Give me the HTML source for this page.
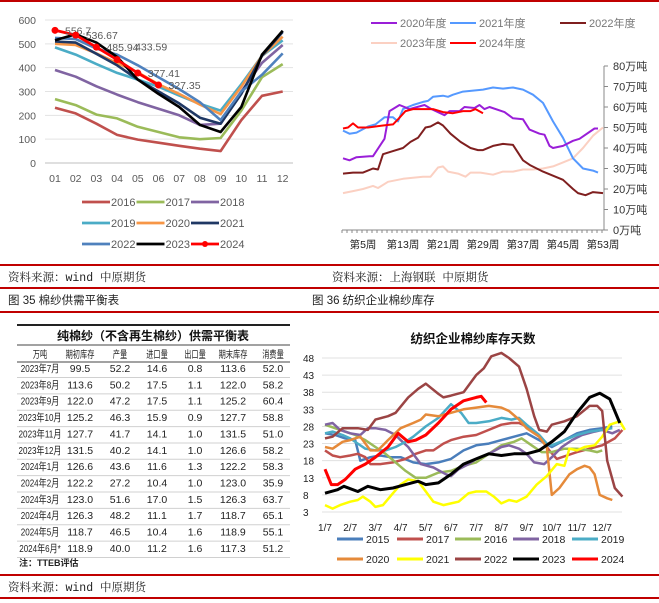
<!DOCTYPE html>
<html><head><meta charset="utf-8"><style>
html,body{margin:0;padding:0;background:#fff;}
svg{display:block;font-family:"Liberation Sans","Noto Sans CJK SC",sans-serif;}
</style></head><body>
<svg id="s" width="659" height="603" viewBox="0 0 659 603" xmlns="http://www.w3.org/2000/svg">
<rect x="0" y="0" width="659" height="603" fill="#fff"/>
<rect x="0" y="0" width="659" height="2" fill="#c00000"/>
<rect x="0" y="264" width="659" height="2" fill="#c00000"/>
<rect x="0" y="287" width="659" height="2" fill="#c00000"/>
<rect x="0" y="311" width="659" height="2" fill="#c00000"/>
<rect x="0" y="574" width="659" height="2" fill="#c00000"/>
<rect x="0" y="597" width="659" height="2" fill="#c00000"/>
<g font-family="'Liberation Mono','Noto Serif CJK SC',serif" font-size="11.5" fill="#222">
<text x="8" y="281">资料来源：wind 中原期货</text>
<text x="332" y="281">资料来源：上海钢联 中原期货</text>
<text x="8" y="304" font-family="'Liberation Sans','Noto Sans CJK SC',sans-serif">图 35 棉纱供需平衡表</text>
<text x="312" y="304" font-family="'Liberation Sans','Noto Sans CJK SC',sans-serif">图 36 纺织企业棉纱库存</text>
<text x="8" y="591">资料来源：wind 中原期货</text>
</g>
<g id="c1"></g>
<g id="c2"></g>
<g id="tb"></g>
<g id="c4"></g>
</svg>
<script>
// ---------- Chart 1 data ----------
const c1Months = ["01","02","03","04","05","06","07","08","09","10","11","12"];
const c1Ticks = [0,100,200,300,400,500,600];
const c1Years = ["2016","2017","2018","2019","2020","2021","2022","2023","2024"];
const c1v2016 = [232,208,165,118,98,85,72,60,50,180,282,300];
const c1v2017 = [268,243,203,187,152,130,108,100,105,220,360,415];
const c1v2018 = [390,362,322,287,255,228,200,160,165,300,420,495];
const c1v2019 = [485,455,415,378,350,320,283,248,220,330,450,515];
const c1v2020 = [500,495,460,420,380,330,290,245,205,320,450,530];
const c1v2021 = [510,505,458,410,350,300,250,190,165,290,450,550];
const c1v2022 = [525,520,480,455,410,360,310,255,180,300,370,460];
const c1v2023 = [515,540,505,445,350,290,235,160,130,235,455,555];
const c1v2024 = [556.7,536.67,485.94,433.59,377.41,327.35];
const c1Labels = ["556.7","536.67","485.94","433.59","377.41","327.35"];

// ---------- Chart 2 data ----------
const c2Ticks = [0,10,20,30,40,50,60,70,80];
const c2WeekLabels = [5,13,21,29,37,45,53];
const c2w2020 = [1,2.3,3.7,6.3,7,9.3,10.3,12.3,14.3,17.3,18.7,21.3,22.3,24.3,25.3,27.3,28.3,29.3,30.3,33.3,35,37,38.3,40.3,41.3,42.3,43,45,47,48.3,51.3,52];
const c2v2020 = [35,34,35.5,36,36,44.5,58,61,59,61,59,56,58,58,60,59.5,61,59,60,57.5,54.5,54,49,47,46.5,41,40,41,43.5,44.5,49.5,49.5];
const c2w2021 = [1,2.3,3.7,6,7.5,9.3,11,12,13,15,17,18,19,21,22,23,25,27,29,31,33,35,37,39,41,43,45,47,49,51,52];
const c2v2021 = [48.5,47,47.5,50.5,51.5,55,55,53,59,61,62.5,63,65,65.5,65,66,67.5,68,68.5,69.5,69,69.5,68.5,66,62,53,45,35,30,29,28];
const c2w2022 = [1,3,5,7,8,9,11,13,14.5,16,17.5,18.5,20,21,22.5,24.5,26.5,28,29,31,33,35,37,38.5,41,43,45,47,48,49.5,51,53];
const c2v2022 = [27.5,28,28,30,29.5,37,38.5,40,43,45,50,50.5,52.5,51,47,43,40,39,39,41,42,41.5,34,31.5,28.5,26.5,24.5,20,18,17,18.5,18];
const c2w2023 = [1,3,5,7,8,10,13,15,17,18.5,20,21,22,24,25.5,26.5,28.5,31,33,35,37,39,41,43,45,47,49,51,53];
const c2v2023 = [18,19,20,21.5,20.5,23.5,25,25.5,26,26,30.5,31,28.5,27.5,26,28,28,27,28.5,28.5,29.5,29.5,30,31,33,35,40,46,50];
const c2w2024 = [1,2,3,4,6,9,11,12,13.5,15,17,19,21,23,25,26.5,27.5,29];
const c2v2024 = [49.5,50,52,50,50,51,51.5,54,58,59,59,59,57.5,57,58,58,59,57];

// ---------- Table data ----------
const tbHeader = ["万吨","期初库存","产量","进口量","出口量","期末库存","消费量"];
const tbMonths = ["2023年7月","2023年8月","2023年9月","2023年10月","2023年11月","2023年12月","2024年1月","2024年2月","2024年3月","2024年4月","2024年5月","2024年6月*"];
const tbOpen = ["99.5","113.6","122.0","125.2","127.7","131.5","126.6","122.2","123.0","126.3","118.7","118.9"];
const tbProd = ["52.2","50.2","47.2","46.3","41.7","40.2","43.6","27.2","51.6","48.2","46.5","40.0"];
const tbImp = ["14.6","17.5","17.5","15.9","14.1","14.1","11.6","10.4","17.0","11.1","10.4","11.2"];
const tbExp = ["0.8","1.1","1.1","0.9","1.0","1.0","1.3","1.0","1.5","1.7","1.6","1.6"];
const tbEnd = ["113.6","122.0","125.2","127.7","131.5","126.6","122.2","123.0","126.3","118.7","118.9","117.3"];
const tbCons = ["52.0","58.2","60.4","58.8","51.0","58.2","58.3","35.9","63.7","65.1","55.1","51.2"];

// ---------- Chart 4 data ----------
const c4Ticks = [3,8,13,18,23,28,33,38,43,48];
const c4XLabels = ["1/7","2/7","3/7","4/7","5/7","6/7","7/7","8/7","9/7","10/7","11/7","12/7"];
const c4m2015 = [0,0.4,0.8,1.2,1.4,1.8,2.2,2.6,3,3.5,4,4.5,5,5.5,6,6.5,7,7.5,8,8.5,9,9.5,10,10.5,11,11.4];
const c4v2015 = [26,25.5,24.5,24,18,19,19.5,19,19,17.5,17,17.5,18.5,21,22.5,23,24,25,26,24,22,24,26,27,27.5,28];
const c4m2017 = [0,0.3,0.6,1,1.3,1.6,1.8,2.2,2.7,3.2,3.6,4,4.3,4.7,5,5.5,6,6.5,7,7.4,7.7,8,8.5,8.9,9.2,9.6,10,10.5,11,11.5,11.8];
const c4v2017 = [21,19.5,19,19.5,20,19,17,17,17.5,18.5,20,21,21,23,24,25,25.5,27,28.5,29,29,28,25,21,18.5,19.5,20.5,21.5,22.5,24.5,27];
const c4m2016 = [0,0.4,0.8,1.2,1.6,2,2.4,2.8,3.2,3.6,4,4.5,5,5.5,6,6.5,7,7.5,7.8,8.2,8.6,9,9.5,10,10.5,10.8,11];
const c4v2016 = [28.5,27.5,26.5,25.5,24,22,20,17.5,15,13,13,14.5,15,16.5,17.5,20,22.5,23.5,24.5,22.5,20.5,20.5,21.5,21.5,21,20.5,21];
const c4m2018 = [0,0.3,0.6,1,1.4,1.7,2,2.4,2.8,3,3.3,3.6,3.8,4.3,4.8,5,5.3,5.7,6,6.5,7,7.3,7.7,8,8.3,8.7,9,9.4,9.8,10.2,10.7,11,11.4,11.7];
const c4v2018 = [28.5,29,27,26,25.5,27.5,27.5,27,25.5,24,22,19,17,16,14,13.5,15.5,17,18.5,20,22,22.5,21.5,20,17.5,17,19,22,24,25.5,26.5,27,26,27];
const c4m2019 = [0,0.3,0.7,1,1.3,1.6,2,2.4,2.8,3.2,3.5,4,4.5,5,5.4,5.7,6,6.5,7,7.4,7.7,8,8.5,8.8,9,9.5,10,10.5,11,11.4];
const c4v2019 = [26,26.5,25.5,24.5,23,21.5,21,21,22,23.5,25,28,30.5,34.5,32,29,29,29.5,30.5,30,30.5,28.5,25.5,23,22.5,24,25.5,26.5,27,27.5];
const c4m2020 = [0,0.3,0.7,1,1.4,1.8,2.1,2.5,3,3.5,3.8,4,4.5,5,5.5,6,6.5,7,7.3,7.7,8,8.5,8.8,9,9.3,9.7,10,10.3,10.5,10.7,10.9,11.2,11.4];
const c4v2020 = [22,21.5,23.5,24,25,21,21,24,27.5,29,30,31.5,31,32,33,33.5,34,33.5,32.5,30,27.5,25,22,8,10,14,15.5,16.5,16,14,8,7,6.5];
const c4m2021 = [0,0.3,0.6,1,1.3,1.5,1.8,2,2.3,2.7,3,3.3,3.7,4,4.3,4.7,5,5.3,5.7,6,6.4,6.7,7,7.3,7.6,8,8.4,8.8,9.2,9.5,9.7,10,10.3,10.7,11,11.3,11.7,11.9];
const c4v2021 = [5,4,5,6,6.5,7.5,6,4.5,5,8.5,11,12.5,12,9,6,5,5.5,6,8.5,9,9,7.5,5.5,6.5,6,7.5,11,13.5,17,16.5,21.5,21,22,22.5,25,28.5,29.5,27];
const c4m2022 = [0,0.3,0.7,1.3,1.7,2,2.5,2.8,3.3,3.7,4,4.5,4.7,5,5.5,6,6.3,6.6,7,7.3,7.7,8,8.3,8.5,8.8,9,9.5,10,10.5,10.8,11,11.2,11.5,11.8];
const c4v2022 = [24.5,25,27.5,27.5,27,30,31,32,36.5,39,40.5,37.5,36.5,37,38,43,45,48.5,49.5,48,45.5,39,31,27,26.5,28.5,29.5,31,34,34,32.5,18,10,7.5];
const c4m2023 = [0,0.5,0.75,1.3,1.7,2.2,2.7,3.2,3.7,4,4.5,5,5.5,6,6.5,7,7.5,8,8.5,9,9.5,10,10.5,10.9,11.3,11.7];
const c4v2023 = [8.5,9.5,10.5,9,10.5,9.5,10,11,12,11,11.5,14,17,18.5,20,19.5,20,20,21,23.5,26.5,32,36.5,37.7,36,29];
const c4m2024 = [0,0.25,0.5,0.8,1.2,1.6,2,2.5,2.9,3.3,3.6,4,4.5,5,5.5,6,6.2,6.4];
const c4v2024 = [15.5,11,11,12.5,15.5,17,19,22,26,23.5,24,25.5,29,33,35.5,36.5,36.8,35];
</script>
<script>
const NS="http://www.w3.org/2000/svg";
function mk(parent,tag,attrs,text){const e=document.createElementNS(NS,tag);for(const k in attrs)e.setAttribute(k,attrs[k]);if(text!==undefined)e.textContent=text;parent.appendChild(e);return e;}
function pathD(xs,ys){return xs.map((x,i)=>(i?"L":"M")+x.toFixed(1)+","+ys[i].toFixed(1)).join(" ");}

// ===== Chart 1 =====
(function(){
const g=document.getElementById('c1');
const X=i=>55+i*20.7, Y=v=>163-v*143/600;
c1Ticks.forEach(t=>{
  const l=mk(g,'line',{x1:45,x2:293,y1:Y(t),y2:Y(t),stroke:t===0?'#bfbfbf':'#e3e3e3','stroke-width':1});
  
  
  const tx=mk(g,'text',{x:36,y:Y(t)+4,'text-anchor':'end','font-size':10.5,fill:'#595959'},String(t));
  
  
});
c1Months.forEach((m,i)=>{
  const tx=mk(g,'text',{x:X(i),y:182,'text-anchor':'middle','font-size':10.5,fill:'#595959'},m);
  
  
});
const series=[c1v2016,c1v2017,c1v2018,c1v2019,c1v2020,c1v2021,c1v2022,c1v2023,c1v2024];
const cols=['#c0504d','#9bbb59','#8064a2','#4bacc6','#f79646','#1f3864','#4f81bd','#000000','#ff0000'];
series.forEach((s,k)=>{
  const p=mk(g,'path',{d:pathD(s.map((v,i)=>X(i)),s.map(v=>Y(v))),fill:'none',stroke:cols[k],'stroke-width':k===8?2.8:2.6,'stroke-linejoin':'round'});
  
  
});
c1v2024.forEach((v,i)=>{
  const c=mk(g,'circle',{cx:X(i),cy:Y(v),r:3.5,fill:'#ff0000'});
  
  
  const t=mk(g,'text',{x:X(i)+(i===3?18:10),y:Y(v)+(i===3?-9:4),'font-size':10.5,fill:'#595959'},c1Labels[i]);
  
  
});
c1Years.forEach((y,k)=>{
  const col=k%3,row=Math.floor(k/3);
  const lx=82+col*54.5,ly=202+row*21;
  const e=mk(g,'g',{});
  
  
  mk(e,'line',{x1:lx,x2:lx+28,y1:ly,y2:ly,stroke:cols[k],'stroke-width':2.8});
  if(k===8) mk(e,'circle',{cx:lx+14,cy:ly,r:3,fill:'#ff0000'});
  mk(e,'text',{x:lx+29,y:ly+4,'font-size':11,fill:'#595959'},y);
});
})();

// ===== Chart 2 =====
(function(){
const g=document.getElementById('c2');
const X=w=>343+(w-1)*5, Y=v=>230-v*2.05;
const ax=mk(g,'line',{x1:604,x2:604,y1:Y(80),y2:230,stroke:'#888','stroke-width':1});


c2Ticks.forEach(t=>{
  mk(g,'line',{x1:604,x2:608,y1:Y(t),y2:Y(t),stroke:'#888'});
  const tx=mk(g,'text',{x:613,y:Y(t)+4,'font-size':11,fill:'#333'},t+'万吨');
  
  
});
const bx=mk(g,'line',{x1:342,x2:604,y1:230,y2:230,stroke:'#888','stroke-width':1});


for(let w=1;w<=53;w++) mk(g,'line',{x1:X(w)-1,x2:X(w)-1,y1:230,y2:233,stroke:'#888'});
c2WeekLabels.forEach(w=>{
  const tx=mk(g,'text',{x:X(w),y:248,'text-anchor':'middle','font-size':10.5,fill:'#222'},'第'+w+'周');
  
  
});
const S=[[c2w2023,c2v2023,'#fbd0c2','2023年度'],[c2w2022,c2v2022,'#7f1f1f','2022年度'],[c2w2021,c2v2021,'#5599ff','2021年度'],[c2w2020,c2v2020,'#9a1ed8','2020年度'],[c2w2024,c2v2024,'#ff0000','2024年度']];
S.forEach(s=>{
  const p=mk(g,'path',{d:pathD(s[0].map(X),s[1].map(Y)),fill:'none',stroke:s[2],'stroke-width':2,'stroke-linejoin':'round'});
  
  
});
const L=[[371,23,'#9a1ed8','2020年度'],[450,23,'#5599ff','2021年度'],[560,23,'#7f1f1f','2022年度'],[371,43,'#fbd0c2','2023年度'],[450,43,'#ff0000','2024年度']];
L.forEach(l=>{
  const e=mk(g,'g',{});
  
  
  mk(e,'line',{x1:l[0],x2:l[0]+26,y1:l[1],y2:l[1],stroke:l[2],'stroke-width':2});
  mk(e,'text',{x:l[0]+29,y:l[1]+4,'font-size':11,fill:'#777'},l[3]);
});
})();

// ===== Table =====
(function(){
const g=document.getElementById('tb');
const cx=[40,80,120,157,195,233,273];
mk(g,'rect',{x:17,y:324,width:273,height:2,fill:'#222'});
mk(g,'line',{x1:17,x2:290,y1:345,y2:345,stroke:'#444','stroke-width':1});
mk(g,'line',{x1:17,x2:290,y1:362,y2:362,stroke:'#444','stroke-width':1});
const t=mk(g,'text',{x:153,y:340,'text-anchor':'middle','font-size':12,'font-weight':'bold',fill:'#111'},'纯棉纱（不含再生棉纱）供需平衡表');


tbHeader.forEach((h,i)=>{
  const e=mk(g,'text',{x:cx[i],y:358,'text-anchor':'middle','font-size':10,fill:'#222'},h);
  e.setAttribute('textLength', (h.length*7.2).toFixed(1));
  e.setAttribute('lengthAdjust','spacingAndGlyphs');
  
  
});
const cols=[tbMonths,tbOpen,tbProd,tbImp,tbExp,tbEnd,tbCons];
tbMonths.forEach((m,r)=>{
  const y=372+r*16.36;
  mk(g,'line',{x1:17,x2:290,y1:y+5.5,y2:y+5.5,stroke:'#d0d0d0','stroke-width':1});
  cols.forEach((c,i)=>{
    const e=mk(g,'text',{x:cx[i],y:y,'text-anchor':'middle','font-size':10.5,fill:'#222'},c[r]);
    if(i===0){
      const s=c[r];let d=0,k=0,o=0;for(const ch of s){if(/[0-9]/.test(ch))d++;else if(/[\u4e00-\u9fff]/.test(ch))k++;else o++;}
      e.setAttribute('textLength',(d*4.5+k*8+o*3).toFixed(1));
      e.setAttribute('lengthAdjust','spacingAndGlyphs');
    }
    
    
  });
});
const n=mk(g,'text',{x:19,y:566,'font-size':9,'font-weight':'bold',fill:'#222'},'注：TTEB评估');


})();

// ===== Chart 4 =====
(function(){
const g=document.getElementById('c4');
const X=m=>325+m*25.2, Y=v=>358+(48-v)*3.422;
const t=mk(g,'text',{x:473,y:343,'text-anchor':'middle','font-size':12.5,'font-weight':'bold',fill:'#111'},'纺织企业棉纱库存天数');


c4Ticks.forEach(v=>{
  const l=mk(g,'line',{x1:322,x2:622,y1:Y(v),y2:Y(v),stroke:'#e0e0e0'});
  
  
  const tx=mk(g,'text',{x:303,y:Y(v)+4,'font-size':10,fill:'#222'},String(v));
  
  
});
c4XLabels.forEach((s,i)=>{
  const tx=mk(g,'text',{x:X(i),y:531,'text-anchor':'middle','font-size':10,fill:'#222'},s);
  
  
});
const S={'2015':[c4m2015,c4v2015,'#4a7ebb'],'2017':[c4m2017,c4v2017,'#c0504d'],'2016':[c4m2016,c4v2016,'#9bbb59'],'2018':[c4m2018,c4v2018,'#8064a2'],'2019':[c4m2019,c4v2019,'#4bacc6'],'2020':[c4m2020,c4v2020,'#e58a3a'],'2021':[c4m2021,c4v2021,'#ffff00'],'2022':[c4m2022,c4v2022,'#9b4444'],'2023':[c4m2023,c4v2023,'#000000'],'2024':[c4m2024,c4v2024,'#ff0000']};
['2015','2017','2016','2018','2019','2020','2021','2022','2023','2024'].forEach(k=>{
  const s=S[k];
  const p=mk(g,'path',{d:pathD(s[0].map(X),s[1].map(Y)),fill:'none',stroke:s[2],'stroke-width':k==='2023'||k==='2024'?3:2.5,'stroke-linejoin':'round'});
  
  
});
const order=['2015','2017','2016','2018','2019','2020','2021','2022','2023','2024'];
const lxs=[337,397,455,513,572];
order.forEach((k,i)=>{
  const lx=lxs[i%5],ly=i<5?539:559;
  const e=mk(g,'g',{});
  
  
  mk(e,'line',{x1:lx,x2:lx+26,y1:ly,y2:ly,stroke:S[k][2],'stroke-width':3});
  mk(e,'text',{x:lx+29,y:ly+4,'font-size':10.5,fill:'#222'},k);
});
})();
</script>
</body></html>
